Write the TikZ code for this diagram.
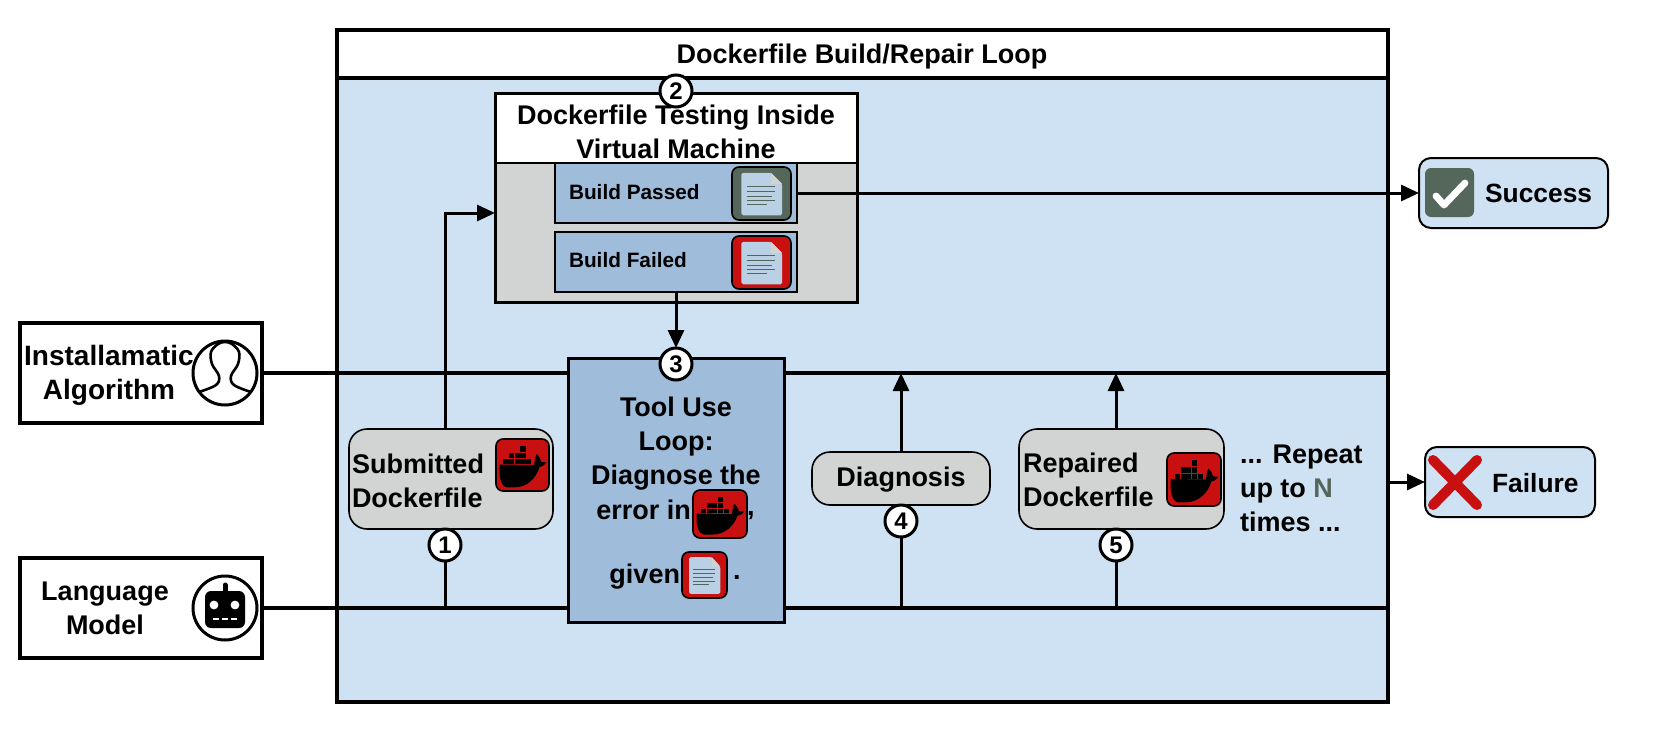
\documentclass[tikz,border=0pt]{standalone}
\usepackage{fontspec}
\setmainfont{Liberation Sans}
\usetikzlibrary{arrows.meta}
\definecolor{pale}{HTML}{CFE2F3}
\definecolor{midb}{HTML}{9FBDDB}
\definecolor{greyb}{HTML}{D2D3D3}
\definecolor{dred}{HTML}{C91010}
\definecolor{dgreen}{HTML}{55675A}
\definecolor{pagec}{HTML}{B9D0E5}
\tikzset{
  x=0.5pt,y=-0.5pt,
  every node/.style={inner sep=0pt,outer sep=0pt,font=\bfseries},
  heavybox/.style={draw=black,line width=1.6pt},
  thinbox/.style={draw=black,line width=0.8pt,fill=midb},
  softbox/.style={draw=black,line width=0.8pt,fill=greyb,rounded corners=9pt},
  tagc/.style={draw=black,line width=1.5pt,fill=white,circle,minimum size=16pt,font=\bfseries\fontsize{12}{12}\selectfont},
  lbl/.style={align=center,font=\bfseries\fontsize{13.5}{17}\selectfont},
  small/.style={font=\bfseries\fontsize{10.4}{13}\selectfont},
  bus/.style={line width=2pt,draw=black},
  conn/.style={line width=1.5pt,draw=black},
  arr/.style={conn,-{Triangle[length=9pt,width=8pt]}},
  avatar/.style={draw=black,line width=1.5pt,fill=white,circle,minimum size=32pt},
}
% \bx{name}{x1}{y1}{x2}{y2}{style}{text}
\newcommand{\bx}[7]{%
  \pgfmathsetmacro\cxx{(#2+#4)/2}\pgfmathsetmacro\cyy{(#3+#5)/2}%
  \pgfmathsetmacro\wxx{(#4-#2)*0.5}\pgfmathsetmacro\hyy{(#5-#3)*0.5}%
  \node[#6,minimum width=\wxx pt,minimum height=\hyy pt] (#1) at (\cxx,\cyy) {#7};}
% whale icon: name x1 y1 x2 y2
\newcommand{\whale}[5]{%
  \bx{#1}{#2}{#3}{#4}{#5}{draw=black,line width=0.8pt,fill=dred,rounded corners=3.5pt}{}%
  \pgfmathsetmacro\sxx{(#4-#2)*0.005}\pgfmathsetmacro\syy{(#5-#3)*0.005}%
  \begin{scope}[shift={(#2,#3)},x=\sxx pt,y=-\syy pt]
    \fill[black] (7,49) -- (72,50) .. controls (73,42) and (74,35) .. (76,29)
      .. controls (82,33) and (84,40) .. (85,44) -- (95,45)
      .. controls (92,50) and (87,53) .. (82,54)
      .. controls (76,74) and (60,93) .. (34,93)
      -- (20,93) .. controls (9,91) and (5,70) .. (7,49) -- cycle;
    \foreach \xa in {14,25,35,46,57}{\fill[black] (\xa,39) rectangle +(9.6,9.6);}
    \foreach \xa in {25,35,46}{\fill[black] (\xa,27) rectangle +(9.6,10);}
    \fill[black] (46,14) rectangle +(9.6,10);
  \end{scope}}
% document icon: name x1 y1 x2 y2 colour
\newcommand{\docicon}[6]{%
  \bx{#1}{#2}{#3}{#4}{#5}{draw=black,line width=0.8pt,fill=#6,rounded corners=3.5pt}{}%
  \pgfmathsetmacro\sxx{(#4-#2)*0.005}\pgfmathsetmacro\syy{(#5-#3)*0.005}%
  \begin{scope}[shift={(#2,#3)},x=\sxx pt,y=-\syy pt]
    \fill[pagec,rounded corners=0.8pt] (16,11) -- (66,11) -- (85,32) -- (85,91) -- (16,91) -- cycle;
    \fill[greyb] (66,11) -- (85,32) -- (66,32) -- cycle;
    \foreach \ya/\xb in {37/73,47/73,56/68,63/73,70/60}{\draw[dgreen,line width=0.5pt] (25,\ya) -- (\xb,\ya);}
  \end{scope}}
\begin{document}
\begin{tikzpicture}
\useasboundingbox (0,0) rectangle (1661,729);
\fill[white] (0,0) rectangle (1661,729);
% main frame
\bx{main}{337}{30}{1388}{702}{heavybox,fill=pale}{}
\bx{title}{337}{30}{1388}{78}{heavybox,fill=white}{}
\node[font=\bfseries\fontsize{13.5}{16}\selectfont] (titletext) at (862,57) {Dockerfile Build/Repair Loop};
% actors
\bx{inst}{20}{323}{262}{423}{heavybox,fill=white}{}
\bx{lang}{20}{558}{262}{658}{heavybox,fill=white}{}
\node[lbl,font=\bfseries\fontsize{14}{17}\selectfont] (insttext) at (109,375) {Installamatic\\Algorithm};
\node[lbl] (langtext) at (105,608) {Language\\Model};
% buses
\draw[bus] (inst.east) -- (main.east |- inst.east);
\draw[bus] (lang.east) -- (main.east |- lang.east);
% avatars
\node[avatar] (person) at (225,373) {};
\draw[line width=1.3pt,black] plot[smooth,tension=0.6] coordinates {(199,392)(216,385)(219,376)(212,364)(211,352)(218,344)(225,342)(232,344)(239,352)(238,364)(231,376)(234,385)(251,392)};
\node[avatar] (robot) at (225,608) {};
\draw[line width=2.5pt,line cap=round] (225,585) -- (225,594);
\fill[black,rounded corners=3pt] (205,591) rectangle (245,628);
\fill[white] (214,605) circle (2.2pt) (235,605) circle (2.2pt);
\draw[white,line width=1.2pt] (213,619) -- (219,619) (222,619) -- (228,619) (231,619) -- (237,619);
% testing VM
\bx{test}{495}{93}{857}{302}{fill=greyb}{}
\bx{testhead}{495}{93}{857}{163}{fill=white}{}
\node[lbl] (testtext) at (676,132) {Dockerfile Testing Inside\\Virtual Machine};
\bx{passed}{555}{163}{797}{223}{thinbox}{}
\bx{failed}{555}{232}{797}{292}{thinbox}{}
\draw[black,line width=1.5pt] (test.north west) rectangle (test.south east);
\draw[black,line width=0.8pt] (testhead.south west) -- (testhead.south east);
\node[small,anchor=west] (passedtext) at (569,192) {Build Passed};
\node[small,anchor=west] (failedtext) at (569,260) {Build Failed};
\docicon{passedicon}{732}{167}{791}{220}{dgreen}
\docicon{failedicon}{732}{236}{791}{289}{dred}
% success / failure
\bx{success}{1419}{158}{1608}{228}{draw=black,line width=1pt,fill=pale,rounded corners=6pt,}{}
\bx{failure}{1425}{447}{1595}{517}{draw=black,line width=1pt,fill=pale,rounded corners=6pt}{}
\node[lbl,anchor=west,font=\bfseries\fontsize{13.2}{17}\selectfont] (successtext) at (1485,193) {Success};
\node[lbl,anchor=west,font=\bfseries\fontsize{13.2}{17}\selectfont] (failuretext) at (1492,483) {Failure};
\bx{checkbox}{1425}{168}{1474}{217}{fill=dgreen,rounded corners=3pt}{}
\draw[white,line width=3.4pt,line cap=round,line join=round] (1436,196) -- (1444,205) -- (1465,183);
\draw[dred,line width=5pt,line cap=round] (1433,460) -- (1477,505) (1477,460) -- (1433,505);
\coordinate (failout) at (main.east |- failure.west);
\draw[arr] (failout) -- (failure.west);
\draw[arr] (passed.east) -- (success.west);
% tool box
\bx{tool}{568}{358}{784}{622}{draw=black,line width=1.5pt,fill=midb}{}
\node[lbl] (tooltext) at (676,444) {Tool Use\\Loop:\\Diagnose the};
\node[lbl,anchor=east] (errortext) at (691,510) {error in};
\node[lbl,anchor=west] (commatext) at (747,516) {,};
\node[lbl,anchor=east] (giventext) at (680,577) {given};
\node[lbl,anchor=west] (dottext) at (733,577) {.};
\whale{toolwhale}{693}{490}{747}{538}
\docicon{tooldoc}{682}{552}{727}{598}{dred}
% artefact boxes
\bx{sub}{349}{429}{553}{529}{softbox}{}
\node[lbl,align=left,anchor=west] (subtext) at (352,481) {Submitted\\Dockerfile};
\whale{subwhale}{496}{439}{549}{491}
\bx{diag}{812}{452}{990}{505}{softbox}{}
\node[lbl] (diagtext) at (901,480) {Diagnosis};
\bx{rep}{1019}{429}{1224}{529}{softbox}{}
\node[lbl,align=left,anchor=west] (reptext) at (1023,480) {Repaired\\Dockerfile};
\whale{repwhale}{1167}{453}{1221}{506}
\node[lbl,align=left,anchor=west] (repeat) at (1240,488) {... Repeat\\up to \textcolor{dgreen}{N}\\times ...};
% numbered tags
\node[tagc] (n1) at (445,545) {1};
\node[tagc] (n2) at (676,91) {2};
\node[tagc] (n3) at (676,364) {3};
\node[tagc] (n4) at (901,521) {4};
\node[tagc] (n5) at (1116,545) {5};
% connectors
\coordinate (testin) at (test.west |- 0,213);
\draw[arr] (sub.north -| n1) |- (testin);
\draw[conn] (n1.south) -- (n1.south |- lang.east);
\draw[conn] (n4.south) -- (n4.south |- lang.east);
\draw[conn] (n5.south) -- (n5.south |- lang.east);
\draw[arr] (diag.north) -- (diag.north |- inst.east);
\draw[arr] (rep.north -| n5) -- (n5 |- inst.east);
\draw[arr] (failed.south -| n3) -- (n3.north);
\end{tikzpicture}
\end{document}
